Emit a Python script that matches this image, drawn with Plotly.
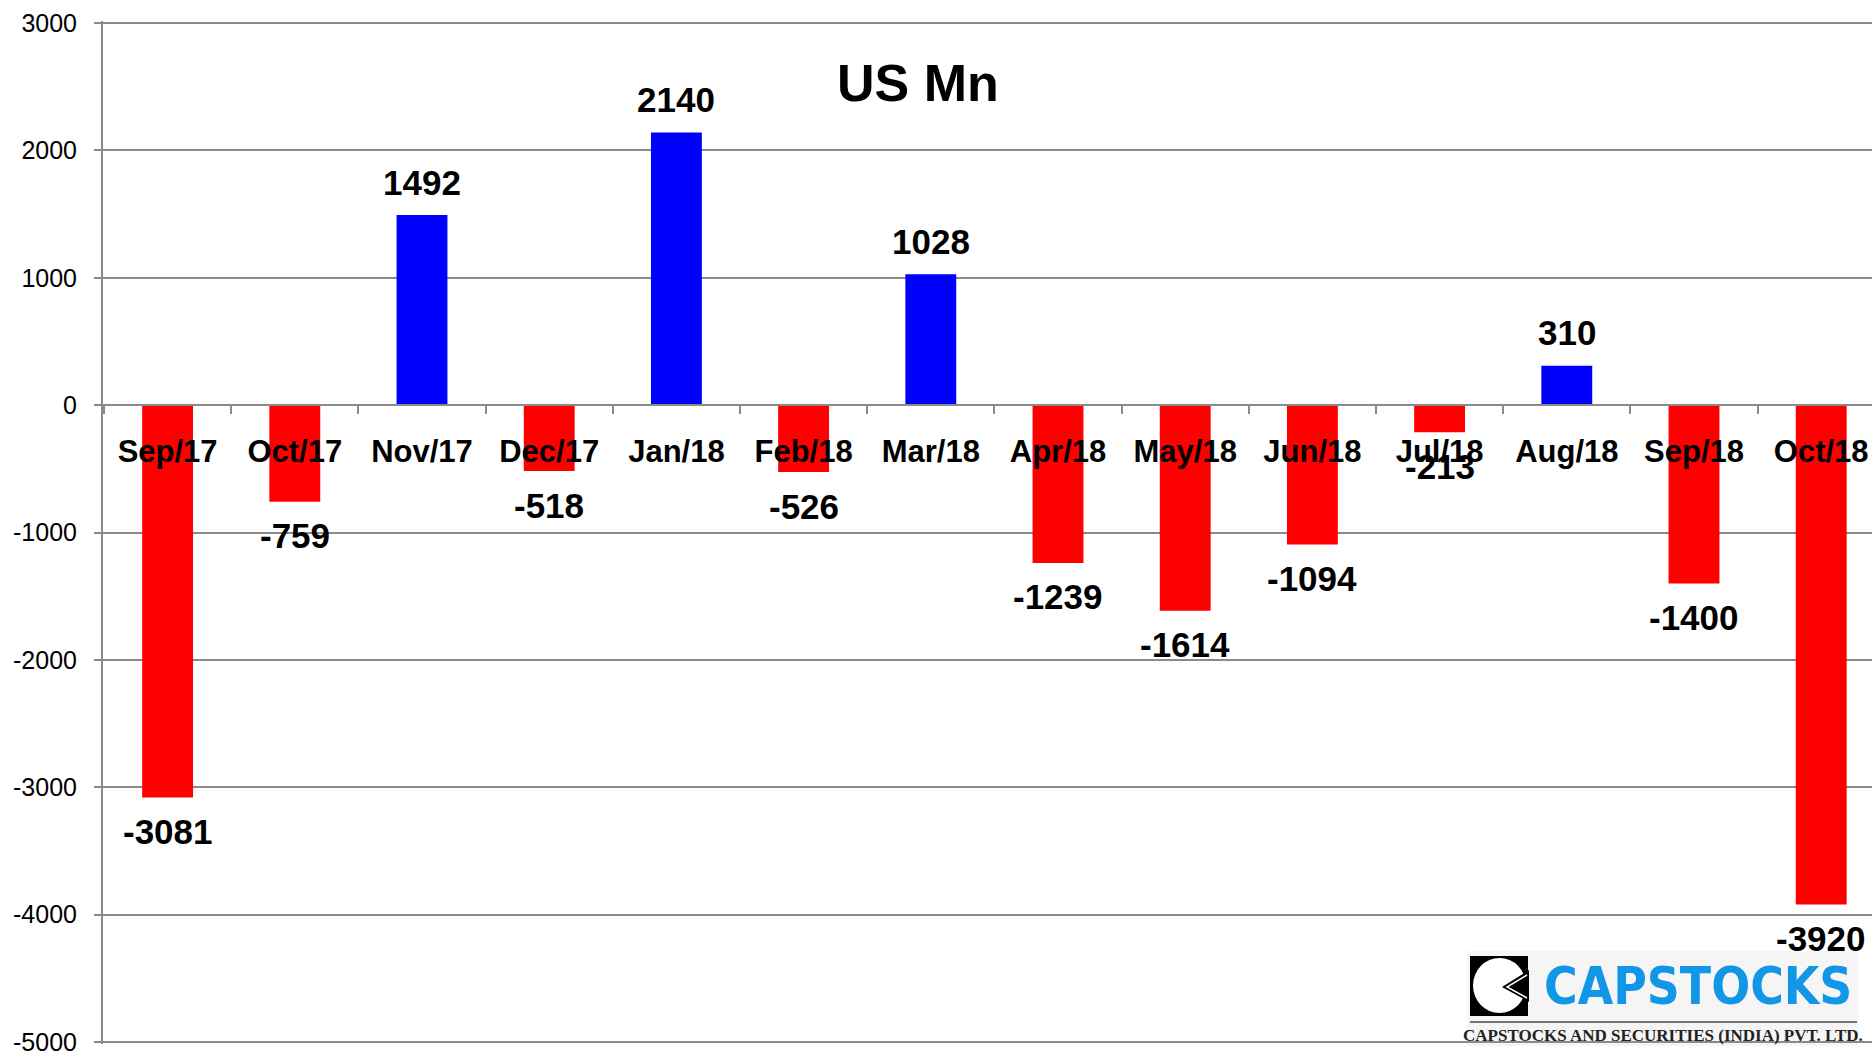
import plotly.graph_objects as go

# ---- data ----
categories = ["Sep/17", "Oct/17", "Nov/17", "Dec/17", "Jan/18", "Feb/18", "Mar/18",
              "Apr/18", "May/18", "Jun/18", "Jul/18", "Aug/18", "Sep/18", "Oct/18"]
values = [-3081, -759, 1492, -518, 2140, -526, 1028, -1239, -1614, -1094, -213, 310, -1400, -3920]
y_ticks = [3000, 2000, 1000, 0, -1000, -2000, -3000, -4000, -5000]
title_text = "US Mn"
logo_text = "CAPSTOCKS"
logo_sub = "CAPSTOCKS AND SECURITIES (INDIA) PVT. LTD."

POS_COLOR = "#0000FF"
NEG_COLOR = "#FF0000"
GRID = "#8a8a8a"
FONT = "Liberation Sans, Arial, Helvetica, sans-serif"

W, H = 1872, 1053
L, R, T, B = 103, 1872, 23, 1042
Y_MIN, Y_MAX = -5000, 3000
PAD_PX = 2  # small range padding (pixels) so the end ticks/gridlines are kept


def px(x):
    return (x - L) / (R - L)


unit = (B - T) / (Y_MAX - Y_MIN)
PAD = PAD_PX / unit
PT, PB = T - PAD_PX, B + PAD_PX  # actual plot-area edges


def py(y):
    return (PB - y) / (PB - PT)


colors = [POS_COLOR if v > 0 else NEG_COLOR for v in values]

fig = go.Figure()
fig.add_trace(go.Bar(x=categories, y=values, marker=dict(color=colors, line=dict(width=0)),
                     width=0.4, hoverinfo="x+y"))

# value labels
for c, v in zip(categories, values):
    fig.add_annotation(x=c, y=v, text=str(v), showarrow=False,
                       yshift=33 if v > 0 else -34, yanchor="middle", xanchor="center",
                       font=dict(family=FONT, size=35, color="black", weight="bold"))

# title
fig.add_annotation(xref="paper", yref="paper", x=px(918), y=py(83), text=title_text,
                   showarrow=False, xanchor="center", yanchor="middle",
                   font=dict(family=FONT, size=52, color="black", weight="bold"))

# ---- logo ----
shapes = [
    dict(type="rect", xref="paper", yref="paper", x0=px(1467), x1=px(1858), y0=py(1046), y1=py(951),
         fillcolor="#f5f5f5", line=dict(width=0), layer="below"),
    dict(type="rect", xref="paper", yref="paper", x0=px(1470), x1=px(1528), y0=py(1016), y1=py(956),
         fillcolor="black", line=dict(width=0), layer="above"),
    dict(type="circle", xref="paper", yref="paper", x0=px(1473), x1=px(1526), y0=py(1013), y1=py(958),
         fillcolor="white", line=dict(width=0), layer="above"),
    dict(type="path", xref="paper", yref="paper",
         path="M %f,%f L %f,%f L %f,%f Z" % (px(1529), py(970), px(1502), py(987), px(1529), py(1002)),
         fillcolor="black", line=dict(width=0), layer="above"),
    dict(type="path", xref="paper", yref="paper",
         path="M %f,%f L %f,%f L %f,%f" % (px(1527), py(975), px(1507), py(987), px(1527), py(998)),
         line=dict(color="white", width=1.5), layer="above"),
    dict(type="line", xref="paper", yref="paper", x0=px(1470), x1=px(1857), y0=py(1022), y1=py(1022),
         line=dict(color="#444444", width=1.5), layer="above"),
]
fig.add_annotation(xref="paper", yref="paper", x=px(1698), y=py(986), text=logo_text,
                   showarrow=False, xanchor="center", yanchor="middle",
                   font=dict(family="Liberation Sans Narrow, DejaVu Sans Condensed, Liberation Sans, sans-serif",
                             size=51, color="#1296e6", weight="bold"))
fig.add_annotation(xref="paper", yref="paper", x=px(1663), y=py(1035), text=logo_sub,
                   showarrow=False, xanchor="center", yanchor="middle",
                   font=dict(family="Liberation Serif, Times New Roman, serif", size=17,
                             color="#222222", weight="bold"))

step = 127.2
x0 = -0.5 - (104 - L) / step
x1 = x0 + (R - L) / step

fig.update_layout(
    width=W, height=H,
    margin=dict(l=L, r=W - R, t=PT, b=H - PB, pad=0, autoexpand=False),
    paper_bgcolor="white", plot_bgcolor="white",
    showlegend=False,
    shapes=shapes,
    xaxis=dict(type="category", categoryorder="array", categoryarray=categories,
               range=[x0, x1], anchor="free", position=(0 - (Y_MIN - PAD)) / (Y_MAX - Y_MIN + 2 * PAD),
               showline=True, linecolor=GRID, linewidth=2, automargin=False,
               ticks="outside", tickson="boundaries", ticklen=8, tickcolor=GRID, tickwidth=2,
               showgrid=False, zeroline=False, layer="above traces",
               tickfont=dict(family=FONT, size=31, color="black", weight="bold"),
               ticklabelstandoff=19),
    yaxis=dict(range=[Y_MIN - PAD, Y_MAX + PAD], tickmode="array", tickvals=y_ticks,
               ticktext=[str(t) for t in y_ticks], automargin=False,
               showgrid=True, gridcolor=GRID, gridwidth=2, zeroline=False,
               showline=True, linecolor=GRID, linewidth=2,
               ticks="outside", ticklen=7, tickcolor=GRID, tickwidth=2,
               tickfont=dict(family=FONT, size=25, color="black"),
               ticklabelstandoff=12, ticklabeloverflow="allow"),
)

fig.write_html("out.html")
